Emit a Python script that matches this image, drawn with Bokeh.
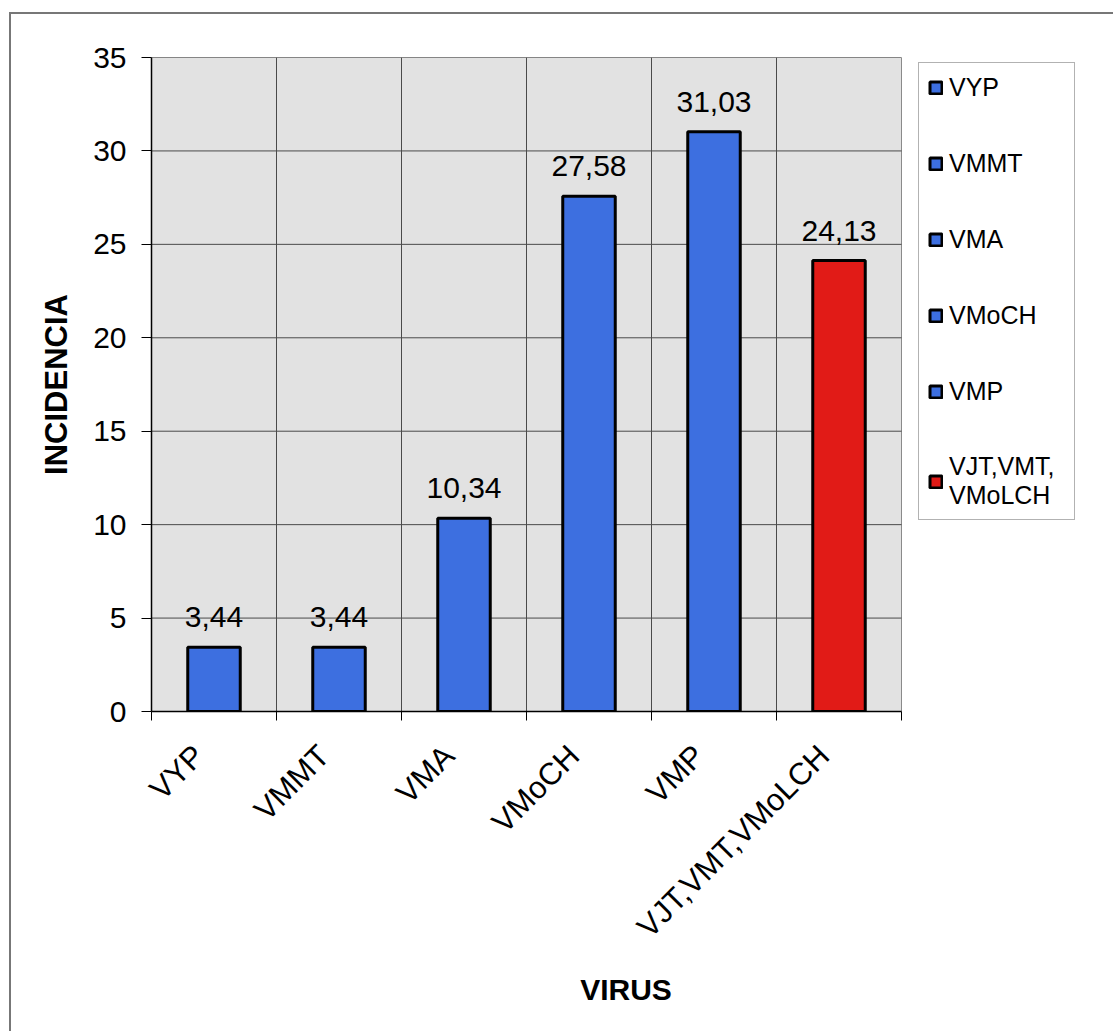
import math
import numpy as np
from bokeh.plotting import figure
from bokeh.models import (ColumnDataSource, Range1d, FixedTicker, Legend,
                          LegendItem, LabelSet)
from bokeh.core.properties import value
from bokeh.embed import file_html
from bokeh.resources import INLINE

# Incidence of each virus
virus = ["VYP", "VMMT", "VMA", "VMoCH", "VMP", "VJT,VMT,VMoLCH"]
incidencia = [3.44, 3.44, 10.34, 27.58, 31.03, 24.13]
legend_labels = ["VYP", "VMMT", "VMA", "VMoCH", "VMP", "VJT,VMT,\nVMoLCH"]
bar_colors = ["#3d6fe0", "#3d6fe0", "#3d6fe0", "#3d6fe0", "#3d6fe0", "#e11b17"]
y_ticks = [0, 5, 10, 15, 20, 25, 30, 35]

FONT = "Liberation Sans"
GRID = "#4a4a4a"
PAGE_W, PAGE_H = 1115, 1033
# page frame: thin rule along the top and left edges
FRAME_X, FRAME_Y, FRAME_B = 9, 12, 2
OX, OY = FRAME_X + FRAME_B, FRAME_Y + FRAME_B
W, H = PAGE_W - OX, PAGE_H - OY
# plot area (page pixels); the canvas frame runs on to CANVAS_R so the
# legend box can sit inside it, right of the grey plot area
F_LEFT, F_RIGHT, F_TOP, F_BOTTOM = 151, 901, 57, 711
CANVAS_R = 1100
LEGEND_LEFT, LEGEND_BOTTOM = 918, 520
Y_MAX = 35
n = len(virus)
x_end = n * (CANVAS_R - F_LEFT) / (F_RIGHT - F_LEFT)

x_pos = np.arange(n) + 0.5
label_pos = x_pos - 0.12
value_text = [f"{v:.2f}".replace(".", ",") for v in incidencia]
src = ColumnDataSource(dict(x=x_pos, y=incidencia, color=bar_colors,
                            label=value_text))

p = figure(width=W, height=H, x_range=Range1d(0, x_end),
           y_range=Range1d(0, Y_MAX),
           output_backend="svg", toolbar_location=None,
           min_border_left=F_LEFT - OX, min_border_right=PAGE_W - CANVAS_R,
           min_border_top=F_TOP - OY, min_border_bottom=PAGE_H - F_BOTTOM,
           background_fill_color="white", border_fill_color="white",
           outline_line_color=None)
p.margin = (FRAME_Y, 0, 0, FRAME_X)
p.styles = {"border-top": f"{FRAME_B}px solid #777777",
            "border-left": f"{FRAME_B}px solid #777777"}
p.xgrid.visible = False
p.ygrid.visible = False

# grey plot area with its grid
p.quad(left=[0], right=[n], bottom=[0], top=[Y_MAX],
       fill_color="#e2e2e2", line_color="#8a8a8a", line_width=1)
p.segment(x0=[0] * len(y_ticks), x1=[n] * len(y_ticks), y0=y_ticks, y1=y_ticks,
          line_color=GRID, line_width=1)
p.segment(x0=list(range(n)), x1=list(range(n)),
          y0=[0] * n, y1=[Y_MAX] * n, line_color=GRID, line_width=1)

bars = p.vbar(x="x", top="y", bottom=0, width=0.42, source=src,
              fill_color="color", line_color="black", line_width=3)

p.add_layout(LabelSet(x="x", y="y", text="label", source=src,
                      y_offset=20, text_align="center",
                      text_baseline="alphabetic", text_font=value(FONT),
                      text_font_size="30px", text_color="black"))

# x axis: labels under bar centres, tick marks on category boundaries
xt = FixedTicker(ticks=list(label_pos), minor_ticks=list(range(n + 1)))
xa = p.xaxis[0]
xa.ticker = xt
xa.bounds = (0, n)
xa.major_label_overrides = {float(x): name for x, name in zip(label_pos, virus)}
xa.major_tick_line_color = None
xa.minor_tick_line_color = "black"
xa.minor_tick_in = 0
xa.minor_tick_out = 9
xa.major_label_orientation = math.pi / 4
xa.major_label_standoff = 30
xa.major_label_text_font = FONT
xa.major_label_text_font_size = "31px"
xa.major_label_text_color = "black"
xa.axis_line_color = "black"
xa.axis_line_width = 1.5
xa.axis_label = "VIRUS"
xa.axis_label_text_font = FONT
xa.axis_label_text_font_size = "30px"
xa.axis_label_text_font_style = "bold"
xa.axis_label_text_color = "black"
xa.axis_label_standoff = 13

ya = p.yaxis[0]
ya.ticker = FixedTicker(ticks=y_ticks)
ya.major_tick_in = 0
ya.major_tick_out = 10
ya.major_tick_line_color = "black"
ya.minor_tick_line_color = None
ya.major_label_standoff = 15
ya.major_label_text_font = FONT
ya.major_label_text_font_size = "30px"
ya.major_label_text_color = "black"
ya.axis_line_color = "black"
ya.axis_line_width = 1.5
ya.axis_label = "INCIDENCIA"
ya.axis_label_text_font = FONT
ya.axis_label_text_font_size = "31px"
ya.axis_label_text_font_style = "bold"
ya.axis_label_text_color = "black"
ya.axis_label_standoff = 16

items = [LegendItem(label=lab, renderers=[bars], index=i)
         for i, lab in enumerate(legend_labels)]
legend = Legend(items=items,
                location=(LEGEND_LEFT - F_LEFT, F_BOTTOM - LEGEND_BOTTOM),
                label_text_font=FONT, label_text_font_size="25px",
                label_text_color="black", glyph_width=15, glyph_height=15,
                label_standoff=6, spacing=46, padding=9, margin=0,
                label_width=116, label_height=30,
                border_line_color="#666666", border_line_width=1,
                background_fill_color="white", background_fill_alpha=1)
p.add_layout(legend)

open("out.html", "w").write(file_html(p, INLINE))
